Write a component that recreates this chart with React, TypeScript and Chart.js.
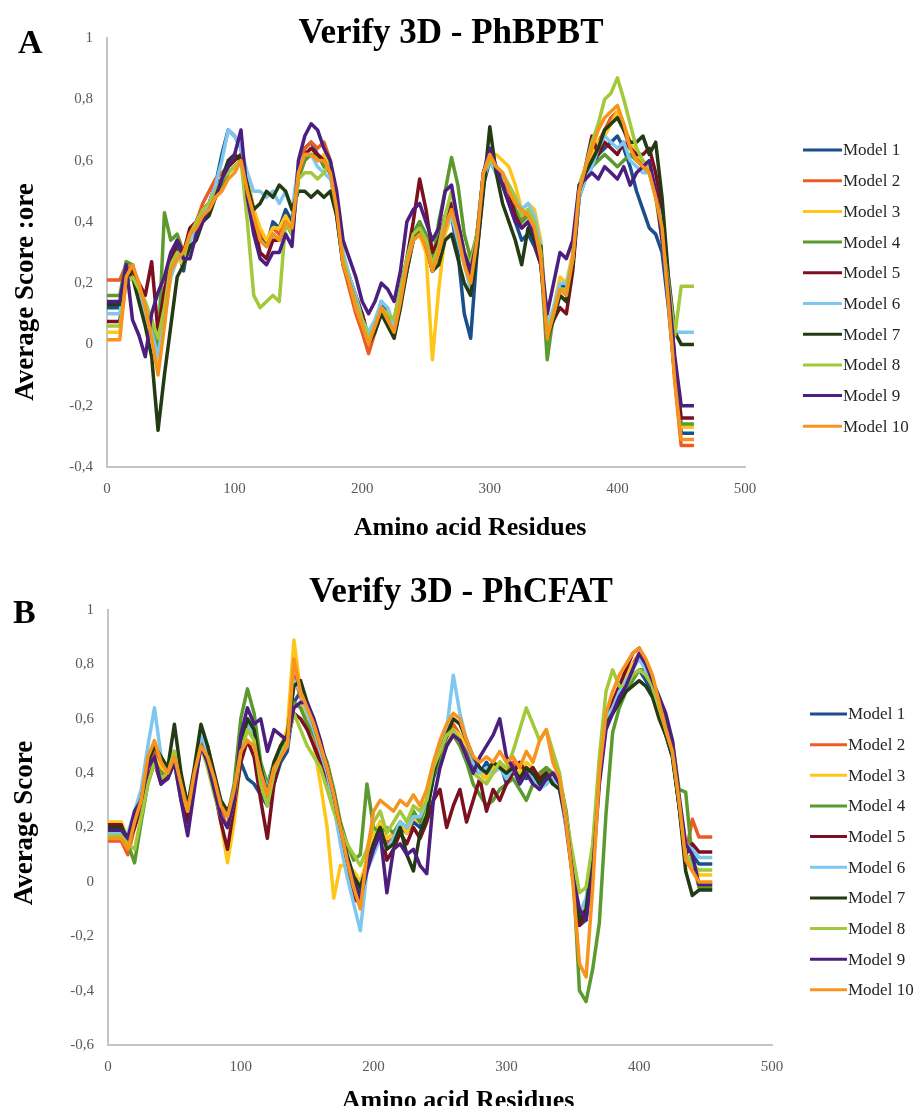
import React, { useEffect, useRef } from "react";
import { Chart, registerables } from "chart.js";

Chart.register(...registerables);

const SERIF = "'Liberation Serif', 'Times New Roman', 'DejaVu Serif', serif";

const MODEL_NAMES = ["Model 1", "Model 2", "Model 3", "Model 4", "Model 5", "Model 6", "Model 7", "Model 8", "Model 9", "Model 10"];
const MODEL_COLORS = ["#1B4F8C", "#EE5A24", "#FFC61A", "#5A9A2E", "#7A1020", "#7EC8F0", "#233B12", "#A3C93A", "#4B1E7F", "#F7941D"];

const X_TICKS = [0, 100, 200, 300, 400, 500];
const Y_TICKS_A = [-0.4, -0.2, 0, 0.2, 0.4, 0.6, 0.8, 1];
const Y_TICKS_B = [-0.6, -0.4, -0.2, 0, 0.2, 0.4, 0.6, 0.8, 1];

// Panel A residues
const RES_A = [0, 5, 10, 15, 20, 25, 30, 35, 40, 45,
  50, 55, 60, 65, 70, 75, 80, 85, 90, 95,
  100, 105, 110, 115, 120, 125, 130, 135, 140, 145,
  150, 155, 160, 165, 170, 175, 180, 185, 190, 195,
  200, 205, 210, 215, 220, 225, 230, 235, 240, 245,
  250, 255, 260, 265, 270, 275, 280, 285, 290, 295,
  300, 305, 310, 315, 320, 325, 330, 335, 340, 345,
  350, 355, 360, 365, 370, 375, 380, 385, 390, 395,
  400, 405, 410, 415, 420, 425, 430, 435, 440, 445,
  450, 455, 460];

const A_M1 = [0.12, 0.12, 0.12, 0.22, 0.26, 0.18, 0.12, 0.06, 0.00, 0.12,
  0.26, 0.32, 0.24, 0.36, 0.40, 0.44, 0.46, 0.52, 0.62, 0.70,
  0.68, 0.64, 0.50, 0.40, 0.36, 0.32, 0.40, 0.38, 0.44, 0.40,
  0.56, 0.64, 0.66, 0.62, 0.60, 0.56, 0.42, 0.26, 0.20, 0.14,
  0.08, 0.02, 0.06, 0.14, 0.10, 0.04, 0.16, 0.24, 0.36, 0.40,
  0.34, 0.24, 0.28, 0.38, 0.42, 0.30, 0.10, 0.02, 0.30, 0.52,
  0.60, 0.56, 0.52, 0.46, 0.40, 0.34, 0.36, 0.32, 0.26, 0.04,
  0.10, 0.20, 0.18, 0.26, 0.48, 0.54, 0.58, 0.62, 0.64, 0.66,
  0.68, 0.64, 0.58, 0.50, 0.44, 0.38, 0.36, 0.30, 0.12, -0.10,
  -0.29, -0.29, -0.29];
const A_M2 = [0.21, 0.21, 0.21, 0.26, 0.24, 0.16, 0.12, 0.08, -0.02, 0.08,
  0.24, 0.30, 0.30, 0.36, 0.40, 0.46, 0.50, 0.54, 0.56, 0.58,
  0.60, 0.62, 0.54, 0.44, 0.36, 0.34, 0.38, 0.36, 0.40, 0.38,
  0.56, 0.64, 0.66, 0.64, 0.66, 0.60, 0.46, 0.26, 0.18, 0.10,
  0.04, -0.03, 0.04, 0.10, 0.08, 0.04, 0.14, 0.24, 0.34, 0.36,
  0.34, 0.24, 0.30, 0.40, 0.46, 0.40, 0.30, 0.22, 0.34, 0.54,
  0.62, 0.58, 0.54, 0.50, 0.44, 0.40, 0.44, 0.40, 0.30, 0.04,
  0.10, 0.16, 0.14, 0.28, 0.50, 0.56, 0.62, 0.66, 0.70, 0.74,
  0.76, 0.70, 0.64, 0.62, 0.58, 0.56, 0.50, 0.40, 0.14, -0.12,
  -0.33, -0.33, -0.33];
const A_M3 = [0.04, 0.04, 0.04, 0.22, 0.24, 0.16, 0.10, 0.04, -0.06, 0.08,
  0.22, 0.28, 0.26, 0.34, 0.38, 0.42, 0.44, 0.48, 0.52, 0.56,
  0.58, 0.60, 0.54, 0.44, 0.38, 0.34, 0.38, 0.38, 0.42, 0.38,
  0.54, 0.62, 0.62, 0.60, 0.62, 0.58, 0.46, 0.30, 0.22, 0.14,
  0.08, 0.04, 0.06, 0.12, 0.10, 0.06, 0.14, 0.26, 0.34, 0.36,
  0.30, -0.05, 0.18, 0.36, 0.42, 0.36, 0.30, 0.26, 0.36, 0.54,
  0.62, 0.62, 0.60, 0.58, 0.52, 0.44, 0.46, 0.44, 0.34, 0.06,
  0.12, 0.22, 0.20, 0.30, 0.50, 0.56, 0.62, 0.66, 0.68, 0.72,
  0.76, 0.72, 0.66, 0.62, 0.60, 0.58, 0.50, 0.38, 0.16, -0.08,
  -0.27, -0.27, -0.27];
const A_M4 = [0.16, 0.16, 0.16, 0.27, 0.26, 0.18, 0.12, 0.06, -0.02, 0.43,
  0.34, 0.36, 0.30, 0.34, 0.38, 0.42, 0.44, 0.50, 0.52, 0.56,
  0.58, 0.60, 0.50, 0.40, 0.34, 0.32, 0.36, 0.34, 0.40, 0.36,
  0.54, 0.60, 0.62, 0.62, 0.58, 0.56, 0.44, 0.28, 0.20, 0.14,
  0.10, 0.02, 0.06, 0.12, 0.10, 0.06, 0.14, 0.24, 0.36, 0.40,
  0.36, 0.26, 0.40, 0.50, 0.61, 0.52, 0.36, 0.28, 0.36, 0.56,
  0.62, 0.58, 0.54, 0.50, 0.44, 0.40, 0.42, 0.36, 0.28, -0.05,
  0.10, 0.18, 0.18, 0.28, 0.50, 0.54, 0.58, 0.60, 0.62, 0.60,
  0.58, 0.60, 0.62, 0.60, 0.58, 0.56, 0.50, 0.38, 0.16, -0.08,
  -0.26, -0.26, -0.26];
const A_M5 = [0.075, 0.075, 0.075, 0.22, 0.24, 0.20, 0.16, 0.27, 0.04, 0.18,
  0.26, 0.34, 0.30, 0.38, 0.40, 0.44, 0.46, 0.52, 0.54, 0.58,
  0.60, 0.62, 0.52, 0.40, 0.30, 0.28, 0.34, 0.34, 0.40, 0.36,
  0.56, 0.62, 0.64, 0.62, 0.60, 0.56, 0.44, 0.28, 0.22, 0.16,
  0.10, 0.02, 0.06, 0.12, 0.10, 0.08, 0.18, 0.28, 0.40, 0.54,
  0.44, 0.30, 0.34, 0.42, 0.46, 0.38, 0.28, 0.22, 0.36, 0.56,
  0.62, 0.58, 0.54, 0.50, 0.42, 0.38, 0.40, 0.34, 0.26, 0.04,
  0.08, 0.12, 0.10, 0.24, 0.48, 0.58, 0.68, 0.62, 0.66, 0.64,
  0.62, 0.66, 0.64, 0.62, 0.62, 0.64, 0.56, 0.44, 0.20, -0.06,
  -0.24, -0.24, -0.24];
const A_M6 = [0.10, 0.10, 0.10, 0.24, 0.22, 0.16, 0.10, 0.04, -0.04, 0.10,
  0.22, 0.28, 0.28, 0.34, 0.38, 0.42, 0.46, 0.52, 0.60, 0.70,
  0.68, 0.64, 0.56, 0.50, 0.50, 0.48, 0.50, 0.46, 0.50, 0.44,
  0.58, 0.62, 0.62, 0.58, 0.56, 0.54, 0.46, 0.30, 0.22, 0.16,
  0.08, 0.04, 0.08, 0.14, 0.12, 0.06, 0.14, 0.24, 0.34, 0.38,
  0.34, 0.24, 0.28, 0.38, 0.42, 0.34, 0.26, 0.18, 0.34, 0.54,
  0.60, 0.56, 0.54, 0.52, 0.48, 0.44, 0.46, 0.42, 0.32, 0.06,
  0.12, 0.20, 0.20, 0.28, 0.48, 0.54, 0.58, 0.64, 0.68, 0.66,
  0.64, 0.66, 0.60, 0.58, 0.56, 0.56, 0.48, 0.40, 0.22, 0.04,
  0.04, 0.04, 0.04];
const A_M7 = [0.13, 0.13, 0.13, 0.24, 0.22, 0.14, 0.06, -0.04, -0.28, -0.10,
  0.06, 0.22, 0.26, 0.32, 0.34, 0.40, 0.42, 0.48, 0.54, 0.60,
  0.62, 0.60, 0.52, 0.44, 0.46, 0.50, 0.48, 0.52, 0.50, 0.44,
  0.50, 0.50, 0.48, 0.50, 0.48, 0.50, 0.42, 0.26, 0.20, 0.14,
  0.06, 0.00, 0.04, 0.10, 0.06, 0.02, 0.12, 0.24, 0.34, 0.38,
  0.32, 0.24, 0.26, 0.34, 0.36, 0.28, 0.20, 0.16, 0.30, 0.50,
  0.71, 0.56, 0.46, 0.40, 0.34, 0.26, 0.38, 0.34, 0.32, 0.02,
  0.08, 0.16, 0.14, 0.26, 0.50, 0.56, 0.60, 0.64, 0.70, 0.72,
  0.74, 0.70, 0.66, 0.66, 0.68, 0.62, 0.66, 0.48, 0.22, 0.04,
  0.00, 0.00, 0.00];
const A_M8 = [0.06, 0.06, 0.06, 0.20, 0.22, 0.18, 0.14, 0.08, 0.02, 0.12,
  0.26, 0.30, 0.28, 0.36, 0.40, 0.44, 0.46, 0.50, 0.54, 0.56,
  0.58, 0.60, 0.40, 0.16, 0.12, 0.14, 0.16, 0.14, 0.40, 0.36,
  0.54, 0.56, 0.56, 0.54, 0.56, 0.60, 0.46, 0.28, 0.20, 0.14,
  0.08, 0.02, 0.06, 0.12, 0.10, 0.08, 0.18, 0.28, 0.36, 0.38,
  0.34, 0.26, 0.32, 0.42, 0.50, 0.40, 0.30, 0.26, 0.36, 0.56,
  0.60, 0.58, 0.56, 0.52, 0.48, 0.42, 0.44, 0.40, 0.30, 0.04,
  0.10, 0.18, 0.18, 0.28, 0.52, 0.58, 0.66, 0.72, 0.80, 0.82,
  0.87, 0.80, 0.72, 0.64, 0.60, 0.56, 0.48, 0.34, 0.20, 0.03,
  0.19, 0.19, 0.19];
const A_M9 = [0.14, 0.14, 0.14, 0.26, 0.08, 0.03, -0.04, 0.10, 0.17, 0.22,
  0.30, 0.34, 0.28, 0.28, 0.36, 0.40, 0.44, 0.48, 0.54, 0.58,
  0.62, 0.70, 0.48, 0.36, 0.28, 0.26, 0.30, 0.30, 0.36, 0.32,
  0.60, 0.68, 0.72, 0.70, 0.64, 0.60, 0.50, 0.34, 0.28, 0.22,
  0.14, 0.10, 0.14, 0.20, 0.18, 0.14, 0.24, 0.40, 0.44, 0.46,
  0.40, 0.34, 0.38, 0.50, 0.52, 0.40, 0.30, 0.24, 0.34, 0.56,
  0.64, 0.58, 0.52, 0.46, 0.40, 0.38, 0.40, 0.36, 0.28, 0.10,
  0.20, 0.30, 0.28, 0.34, 0.52, 0.54, 0.56, 0.54, 0.58, 0.56,
  0.54, 0.58, 0.52, 0.56, 0.58, 0.60, 0.50, 0.34, 0.18, -0.04,
  -0.20, -0.20, -0.20];
const A_M10 = [0.015, 0.015, 0.015, 0.22, 0.26, 0.20, 0.12, 0.02, -0.10, 0.06,
  0.24, 0.28, 0.30, 0.36, 0.38, 0.42, 0.44, 0.48, 0.50, 0.54,
  0.56, 0.60, 0.50, 0.42, 0.34, 0.32, 0.36, 0.34, 0.40, 0.38,
  0.56, 0.62, 0.62, 0.60, 0.60, 0.56, 0.44, 0.26, 0.20, 0.12,
  0.06, 0.00, 0.06, 0.12, 0.08, 0.04, 0.14, 0.26, 0.34, 0.36,
  0.32, 0.24, 0.30, 0.38, 0.44, 0.36, 0.26, 0.20, 0.34, 0.56,
  0.62, 0.58, 0.56, 0.50, 0.46, 0.44, 0.42, 0.38, 0.28, 0.02,
  0.10, 0.18, 0.16, 0.28, 0.50, 0.58, 0.64, 0.70, 0.74, 0.76,
  0.78, 0.72, 0.64, 0.60, 0.58, 0.56, 0.48, 0.38, 0.14, -0.12,
  -0.31, -0.31, -0.31];

// Panel B residues
const RES_B = [0, 5, 10, 15, 20, 25, 30, 35, 40, 45,
  50, 55, 60, 65, 70, 75, 80, 85, 90, 95,
  100, 105, 110, 115, 120, 125, 130, 135, 140, 145,
  150, 155, 160, 165, 170, 175, 180, 185, 190, 195,
  200, 205, 210, 215, 220, 225, 230, 235, 240, 245,
  250, 255, 260, 265, 270, 275, 280, 285, 290, 295,
  300, 305, 310, 315, 320, 325, 330, 335, 340, 345,
  350, 355, 360, 365, 370, 375, 380, 385, 390, 395,
  400, 405, 410, 415, 420, 425, 430, 435, 440, 445,
  450, 455];

const B_M1 = [0.19, 0.19, 0.19, 0.16, 0.22, 0.28, 0.40, 0.48, 0.42, 0.38,
  0.46, 0.36, 0.26, 0.38, 0.52, 0.46, 0.38, 0.28, 0.24, 0.30,
  0.44, 0.38, 0.36, 0.32, 0.28, 0.36, 0.44, 0.48, 0.66, 0.70,
  0.62, 0.56, 0.48, 0.40, 0.30, 0.18, 0.08, 0.00, -0.04, 0.06,
  0.16, 0.22, 0.14, 0.16, 0.20, 0.18, 0.22, 0.20, 0.26, 0.38,
  0.46, 0.52, 0.56, 0.54, 0.48, 0.42, 0.40, 0.44, 0.40, 0.44,
  0.36, 0.42, 0.40, 0.38, 0.40, 0.36, 0.36, 0.40, 0.36, 0.22,
  0.02, -0.16, -0.14, 0.10, 0.38, 0.58, 0.62, 0.66, 0.72, 0.76,
  0.78, 0.74, 0.70, 0.62, 0.54, 0.46, 0.28, 0.08, 0.10, 0.066,
  0.066, 0.066];
const B_M2 = [0.15, 0.15, 0.15, 0.10, 0.20, 0.28, 0.42, 0.50, 0.40, 0.40,
  0.48, 0.38, 0.26, 0.36, 0.50, 0.46, 0.36, 0.26, 0.20, 0.30,
  0.50, 0.58, 0.54, 0.40, 0.30, 0.40, 0.46, 0.50, 0.76, 0.68,
  0.60, 0.52, 0.46, 0.40, 0.28, 0.16, 0.08, 0.02, -0.02, 0.08,
  0.18, 0.20, 0.14, 0.16, 0.22, 0.18, 0.24, 0.22, 0.28, 0.40,
  0.50, 0.54, 0.58, 0.54, 0.50, 0.44, 0.40, 0.38, 0.42, 0.44,
  0.40, 0.44, 0.38, 0.42, 0.40, 0.38, 0.42, 0.38, 0.36, 0.22,
  0.04, -0.14, -0.10, 0.12, 0.42, 0.60, 0.66, 0.72, 0.76, 0.80,
  0.84, 0.80, 0.74, 0.66, 0.56, 0.48, 0.30, 0.10, 0.23, 0.165,
  0.165, 0.165];
const B_M3 = [0.22, 0.22, 0.22, 0.16, 0.22, 0.30, 0.40, 0.46, 0.42, 0.40,
  0.46, 0.36, 0.28, 0.36, 0.50, 0.44, 0.34, 0.22, 0.07, 0.22,
  0.46, 0.56, 0.54, 0.40, 0.32, 0.44, 0.50, 0.56, 0.89, 0.70,
  0.58, 0.50, 0.36, 0.20, -0.06, 0.06, 0.06, 0.04, 0.00, 0.08,
  0.18, 0.22, 0.16, 0.18, 0.22, 0.18, 0.24, 0.22, 0.28, 0.40,
  0.46, 0.50, 0.56, 0.54, 0.50, 0.46, 0.40, 0.38, 0.42, 0.44,
  0.40, 0.42, 0.40, 0.44, 0.42, 0.38, 0.40, 0.38, 0.36, 0.22,
  0.06, -0.12, -0.08, 0.12, 0.42, 0.60, 0.66, 0.70, 0.76, 0.80,
  0.82, 0.78, 0.72, 0.64, 0.56, 0.48, 0.30, 0.10, 0.08, 0.025,
  0.025, 0.025];
const B_M4 = [0.18, 0.18, 0.18, 0.14, 0.07, 0.22, 0.36, 0.44, 0.40, 0.38,
  0.44, 0.30, 0.22, 0.36, 0.54, 0.50, 0.38, 0.28, 0.24, 0.36,
  0.60, 0.71, 0.62, 0.44, 0.36, 0.44, 0.50, 0.52, 0.66, 0.64,
  0.58, 0.54, 0.50, 0.44, 0.34, 0.22, 0.14, 0.08, 0.10, 0.36,
  0.20, 0.18, 0.20, 0.18, 0.22, 0.20, 0.26, 0.22, 0.30, 0.40,
  0.44, 0.50, 0.54, 0.50, 0.44, 0.36, 0.32, 0.28, 0.30, 0.34,
  0.36, 0.38, 0.34, 0.30, 0.36, 0.40, 0.42, 0.40, 0.38, 0.26,
  0.06, -0.40, -0.44, -0.32, -0.15, 0.25, 0.55, 0.64, 0.70, 0.74,
  0.78, 0.78, 0.74, 0.68, 0.60, 0.52, 0.34, 0.33, 0.08, -0.02,
  -0.02, -0.02];
const B_M5 = [0.21, 0.21, 0.21, 0.14, 0.20, 0.28, 0.38, 0.44, 0.36, 0.40,
  0.46, 0.34, 0.22, 0.36, 0.50, 0.44, 0.34, 0.22, 0.12, 0.28,
  0.44, 0.52, 0.46, 0.30, 0.16, 0.36, 0.46, 0.52, 0.62, 0.60,
  0.56, 0.50, 0.44, 0.38, 0.30, 0.18, 0.06, -0.06, -0.08, 0.06,
  0.14, 0.20, 0.08, 0.12, 0.18, 0.14, 0.20, 0.16, 0.22, 0.30,
  0.34, 0.20, 0.28, 0.34, 0.22, 0.30, 0.38, 0.26, 0.34, 0.30,
  0.36, 0.40, 0.44, 0.40, 0.42, 0.38, 0.40, 0.36, 0.36, 0.20,
  0.02, -0.16, -0.12, 0.10, 0.40, 0.60, 0.66, 0.72, 0.78, 0.84,
  0.86, 0.80, 0.72, 0.64, 0.56, 0.48, 0.28, 0.10, 0.14, 0.11,
  0.11, 0.11];
const B_M6 = [0.18, 0.18, 0.18, 0.18, 0.26, 0.34, 0.50, 0.64, 0.46, 0.40,
  0.48, 0.38, 0.28, 0.40, 0.54, 0.48, 0.38, 0.30, 0.24, 0.32,
  0.50, 0.58, 0.54, 0.42, 0.34, 0.44, 0.48, 0.50, 0.74, 0.70,
  0.62, 0.56, 0.48, 0.40, 0.28, 0.14, 0.02, -0.08, -0.18, 0.04,
  0.10, 0.16, 0.12, 0.16, 0.22, 0.20, 0.24, 0.24, 0.30, 0.42,
  0.50, 0.56, 0.76, 0.62, 0.52, 0.44, 0.40, 0.42, 0.40, 0.42,
  0.38, 0.42, 0.36, 0.40, 0.38, 0.34, 0.36, 0.38, 0.34, 0.20,
  0.02, -0.12, -0.06, 0.12, 0.40, 0.60, 0.64, 0.70, 0.74, 0.78,
  0.82, 0.78, 0.72, 0.64, 0.56, 0.48, 0.30, 0.14, 0.12, 0.09,
  0.09, 0.09];
const B_M7 = [0.20, 0.20, 0.20, 0.16, 0.24, 0.30, 0.44, 0.50, 0.46, 0.42,
  0.58, 0.40, 0.28, 0.42, 0.58, 0.50, 0.40, 0.30, 0.26, 0.32,
  0.50, 0.60, 0.56, 0.42, 0.32, 0.44, 0.50, 0.54, 0.72, 0.74,
  0.66, 0.58, 0.50, 0.42, 0.32, 0.20, 0.10, 0.02, -0.02, 0.06,
  0.14, 0.20, 0.12, 0.14, 0.20, 0.10, 0.04, 0.18, 0.24, 0.40,
  0.48, 0.54, 0.60, 0.58, 0.52, 0.46, 0.42, 0.40, 0.44, 0.42,
  0.40, 0.42, 0.38, 0.42, 0.40, 0.36, 0.40, 0.36, 0.34, 0.22,
  0.02, -0.14, -0.10, 0.10, 0.38, 0.58, 0.62, 0.66, 0.70, 0.72,
  0.74, 0.72, 0.68, 0.60, 0.54, 0.46, 0.28, 0.04, -0.05, -0.03,
  -0.03, -0.03];
const B_M8 = [0.17, 0.17, 0.17, 0.14, 0.12, 0.24, 0.36, 0.44, 0.38, 0.40,
  0.48, 0.34, 0.26, 0.38, 0.50, 0.42, 0.32, 0.24, 0.20, 0.30,
  0.48, 0.56, 0.52, 0.36, 0.28, 0.40, 0.46, 0.52, 0.62, 0.56,
  0.50, 0.46, 0.42, 0.34, 0.26, 0.20, 0.14, 0.10, 0.06, 0.12,
  0.22, 0.26, 0.18, 0.22, 0.26, 0.22, 0.28, 0.26, 0.30, 0.42,
  0.48, 0.54, 0.56, 0.52, 0.46, 0.40, 0.38, 0.36, 0.40, 0.44,
  0.42, 0.48, 0.56, 0.64, 0.58, 0.52, 0.56, 0.48, 0.40, 0.24,
  0.10, -0.04, -0.02, 0.14, 0.46, 0.70, 0.78, 0.72, 0.72, 0.76,
  0.78, 0.76, 0.72, 0.64, 0.56, 0.48, 0.30, 0.10, 0.06, 0.044,
  0.044, 0.044];
const B_M9 = [0.19, 0.19, 0.19, 0.16, 0.26, 0.30, 0.42, 0.46, 0.36, 0.38,
  0.44, 0.30, 0.17, 0.34, 0.50, 0.44, 0.34, 0.24, 0.20, 0.30,
  0.54, 0.64, 0.58, 0.60, 0.48, 0.56, 0.54, 0.52, 0.64, 0.66,
  0.66, 0.60, 0.52, 0.42, 0.32, 0.20, 0.08, 0.00, -0.06, 0.04,
  0.12, 0.18, -0.04, 0.12, 0.14, 0.10, 0.12, 0.06, 0.03, 0.30,
  0.42, 0.50, 0.54, 0.52, 0.46, 0.40, 0.46, 0.50, 0.54, 0.60,
  0.46, 0.42, 0.36, 0.40, 0.36, 0.34, 0.38, 0.40, 0.36, 0.22,
  0.02, -0.10, -0.14, 0.04, 0.36, 0.56, 0.62, 0.68, 0.72, 0.78,
  0.84, 0.80, 0.74, 0.68, 0.62, 0.52, 0.32, 0.14, 0.10, -0.01,
  -0.01, -0.01];
const B_M10 = [0.16, 0.16, 0.16, 0.12, 0.22, 0.30, 0.46, 0.52, 0.44, 0.40,
  0.46, 0.36, 0.26, 0.40, 0.50, 0.46, 0.38, 0.28, 0.24, 0.34,
  0.48, 0.52, 0.50, 0.40, 0.32, 0.42, 0.46, 0.50, 0.82, 0.70,
  0.64, 0.58, 0.50, 0.42, 0.32, 0.20, 0.08, -0.02, -0.10, 0.10,
  0.26, 0.30, 0.28, 0.26, 0.30, 0.28, 0.32, 0.28, 0.34, 0.44,
  0.52, 0.58, 0.62, 0.60, 0.52, 0.46, 0.44, 0.46, 0.44, 0.48,
  0.44, 0.46, 0.42, 0.48, 0.44, 0.52, 0.56, 0.44, 0.38, 0.22,
  0.00, -0.30, -0.35, -0.02, 0.40, 0.62, 0.70, 0.76, 0.80, 0.84,
  0.86, 0.82, 0.76, 0.66, 0.56, 0.48, 0.30, 0.08, 0.04, 0.00,
  0.00, 0.00];

const SERIES_A = [A_M1, A_M2, A_M3, A_M4, A_M5, A_M6, A_M7, A_M8, A_M9, A_M10];
const SERIES_B = [B_M1, B_M2, B_M3, B_M4, B_M5, B_M6, B_M7, B_M8, B_M9, B_M10];

const fmtTick = (v: number) => {
  const r = Math.round(v * 10) / 10;
  return String(r).replace(".", ",");
};

const decorPlugin = {
  id: "decor",
  afterDraw(chart: any, _args: any, opts: any) {
    const ctx = chart.ctx as CanvasRenderingContext2D;
    ctx.save();
    ctx.fillStyle = "#000";
    ctx.textBaseline = "alphabetic";
    ctx.textAlign = "left";
    ctx.font = `bold 34px ${SERIF}`;
    ctx.fillText(opts.letter, opts.letterX, opts.letterY);

    ctx.textAlign = "center";
    ctx.font = `bold 35px ${SERIF}`;
    ctx.fillText(opts.title, opts.titleX, opts.titleY);

    ctx.font = `bold 26px ${SERIF}`;
    ctx.fillText(opts.xTitle, opts.xTitleX, opts.xTitleY);

    ctx.save();
    ctx.translate(opts.yTitleX, opts.yTitleY);
    ctx.rotate(-Math.PI / 2);
    ctx.textBaseline = "middle";
    ctx.font = `bold 27px ${SERIF}`;
    ctx.fillText(opts.yTitle, 0, 0);
    ctx.restore();

    chart.data.datasets.forEach((ds: any, i: number) => {
      const y = opts.legendY + i * opts.legendStep;
      ctx.strokeStyle = ds.borderColor;
      ctx.lineWidth = 3;
      ctx.beginPath();
      ctx.moveTo(opts.legendX1, y);
      ctx.lineTo(opts.legendX2, y);
      ctx.stroke();
      ctx.fillStyle = "#262626";
      ctx.textAlign = "left";
      ctx.textBaseline = "middle";
      ctx.font = `17px ${SERIF}`;
      ctx.fillText(ds.label, opts.legendX2 + 1, y + 1);
    });
    ctx.restore();
  },
};

type PanelProps = {
  top: number;
  height: number;
  areaLeft: number;
  areaRight: number;
  areaTop: number;
  areaBottom: number;
  yMin: number;
  yTicks: number[];
  res: number[];
  series: number[][];
  decor: any;
};

function Panel(p: PanelProps) {
  const ref = useRef<HTMLCanvasElement | null>(null);
  useEffect(() => {
    const datasets = p.series.map((vals, i) => ({
      label: MODEL_NAMES[i],
      data: p.res.map((x, j) => ({ x, y: vals[j] })),
      borderColor: MODEL_COLORS[i],
      backgroundColor: MODEL_COLORS[i],
      borderWidth: 3.5,
      borderJoinStyle: "round",
      pointRadius: 0,
      fill: false,
      tension: 0,
      order: MODEL_NAMES.length - 1 - i,
    }));
    const chart = new Chart(ref.current as HTMLCanvasElement, {
      type: "line",
      data: { datasets },
      plugins: [decorPlugin as any],
      options: {
        responsive: false,
        animation: false,
        events: [],
        layout: { padding: { left: 0, top: p.areaTop, right: 921 - p.areaRight, bottom: 0 } },
        plugins: {
          legend: { display: false },
          tooltip: { enabled: false },
          title: { display: false },
          decor: p.decor,
        } as any,
        scales: {
          x: {
            type: "linear",
            min: 0,
            max: 500,
            afterBuildTicks: (s: any) => {
              s.ticks = X_TICKS.map((v) => ({ value: v }));
            },
            afterFit: (s: any) => {
              s.height = p.height - p.areaBottom;
            },
            grid: { display: false, drawTicks: false },
            border: { display: true, color: "#C4C4C4", width: 2 },
            ticks: {
              padding: 13,
              color: "#595959",
              font: { family: SERIF, size: 15 },
              maxRotation: 0,
              autoSkip: false,
            },
          },
          y: {
            type: "linear",
            min: p.yMin,
            max: 1,
            afterBuildTicks: (s: any) => {
              s.ticks = p.yTicks.map((v) => ({ value: v }));
            },
            afterFit: (s: any) => {
              s.width = p.areaLeft;
            },
            grid: { display: false, drawTicks: false },
            border: { display: true, color: "#C4C4C4", width: 2 },
            ticks: {
              padding: 14,
              color: "#595959",
              font: { family: SERIF, size: 15 },
              autoSkip: false,
              callback: (v: any) => fmtTick(Number(v)),
            },
          },
        },
      } as any,
    });
    return () => chart.destroy();
  }, []);
  return (
    <canvas
      ref={ref}
      width={921}
      height={p.height}
      style={{ position: "absolute", left: 0, top: p.top, width: 921, height: p.height, display: "block" }}
    />
  );
}

export default function App() {
  return (
    <div style={{ position: "absolute", left: 0, top: 0, width: 921, height: 1106, background: "#fff", overflow: "hidden" }}>
      <Panel
        top={0}
        height={550}
        areaLeft={107}
        areaRight={745}
        areaTop={38}
        areaBottom={467}
        yMin={-0.4}
        yTicks={Y_TICKS_A}
        res={RES_A}
        series={SERIES_A}
        decor={{
          letter: "A",
          letterX: 18,
          letterY: 53,
          title: "Verify 3D - PhBPBT",
          titleX: 451,
          titleY: 43,
          xTitle: "Amino acid Residues",
          xTitleX: 470,
          xTitleY: 535,
          yTitle: "Average Score :ore",
          yTitleX: 26,
          yTitleY: 292,
          legendX1: 803,
          legendX2: 842,
          legendY: 150,
          legendStep: 30.7,
        }}
      />
      <Panel
        top={550}
        height={556}
        areaLeft={108}
        areaRight={772}
        areaTop={60}
        areaBottom={495}
        yMin={-0.6}
        yTicks={Y_TICKS_B}
        res={RES_B}
        series={SERIES_B}
        decor={{
          letter: "B",
          letterX: 13,
          letterY: 73,
          title: "Verify 3D - PhCFAT",
          titleX: 461,
          titleY: 52,
          xTitle: "Amino acid Residues",
          xTitleX: 458,
          xTitleY: 558,
          yTitle: "Average Score",
          yTitleX: 25,
          yTitleY: 273,
          legendX1: 810,
          legendX2: 847,
          legendY: 164,
          legendStep: 30.65,
        }}
      />
    </div>
  );
}
